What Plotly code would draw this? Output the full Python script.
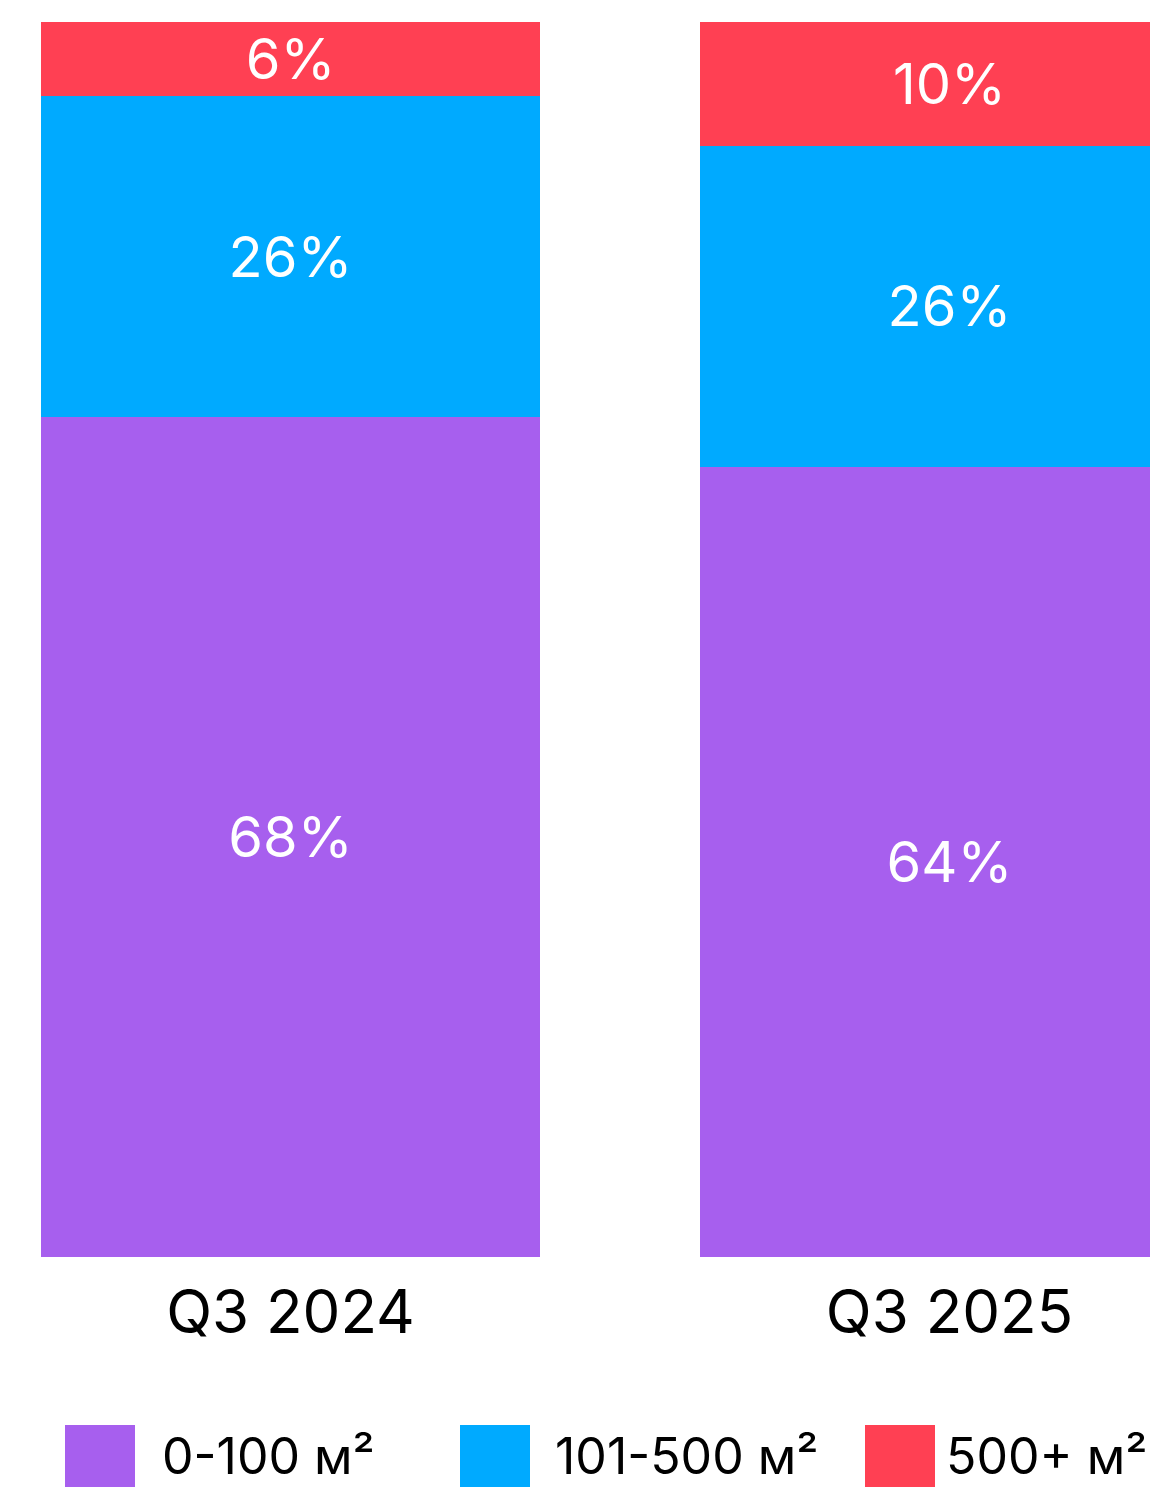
import plotly.graph_objects as go

categories = ["Q3 2024", "Q3 2025"]
series_names = ["0-100 м²", "101-500 м²", "500+ м²"]
small = [68, 64]
mid = [26, 26]
large = [6, 10]
series_values = [small, mid, large]
colors = ["#A75FEE", "#00AAFF", "#FF4053"]

FONT = "Inter"
# page has an 8px body margin; figure is sized/positioned to compensate
W, H = 1150, 1479
PLOT_TOP, PLOT_BOT = 14, 1249
PLOT_H = PLOT_BOT - PLOT_TOP

fig = go.Figure()
for name, vals, col in zip(series_names, series_values, colors):
    fig.add_trace(go.Bar(
        x=categories, y=vals, name=name,
        marker=dict(color=col, line=dict(width=0)),
        text=[f"{v}%" for v in vals],
        textposition="inside", insidetextanchor="middle",
        constraintext="none",
        textfont=dict(family=FONT, size=56, color="white"),
        width=0.757, showlegend=False, hoverinfo="skip",
    ))

# custom legend (large swatches)
leg_x = [57, 452, 857]
leg_tx = [152, 545, 936]
for name, col, sx, tx in zip(series_names, colors, leg_x, leg_tx):
    fig.add_shape(type="rect", xref="paper", yref="paper",
                  x0=sx / W, x1=(sx + 70) / W,
                  y0=(PLOT_BOT - H) / PLOT_H, y1=(PLOT_BOT - 1417) / PLOT_H,
                  fillcolor=col, line=dict(width=0))
    fig.add_annotation(x=tx / W, y=(PLOT_BOT - 1448) / PLOT_H, xref="paper", yref="paper",
                       xanchor="left", yanchor="middle", text=name, showarrow=False,
                       font=dict(family=FONT, size=50, color="black"))

fig.update_layout(
    barmode="stack",
    width=W, height=H,
    margin=dict(l=0, r=0, t=PLOT_TOP, b=H - PLOT_BOT),
    paper_bgcolor="white", plot_bgcolor="white",
    xaxis=dict(range=[-0.4287, 1.3164], showgrid=False, zeroline=False, showline=False,
               ticks="", tickfont=dict(family=FONT, size=60, color="black"),
               ticklabelstandoff=15),
    yaxis=dict(range=[0, 100], visible=False),
    showlegend=False,
)

fig.write_html("out.html")
